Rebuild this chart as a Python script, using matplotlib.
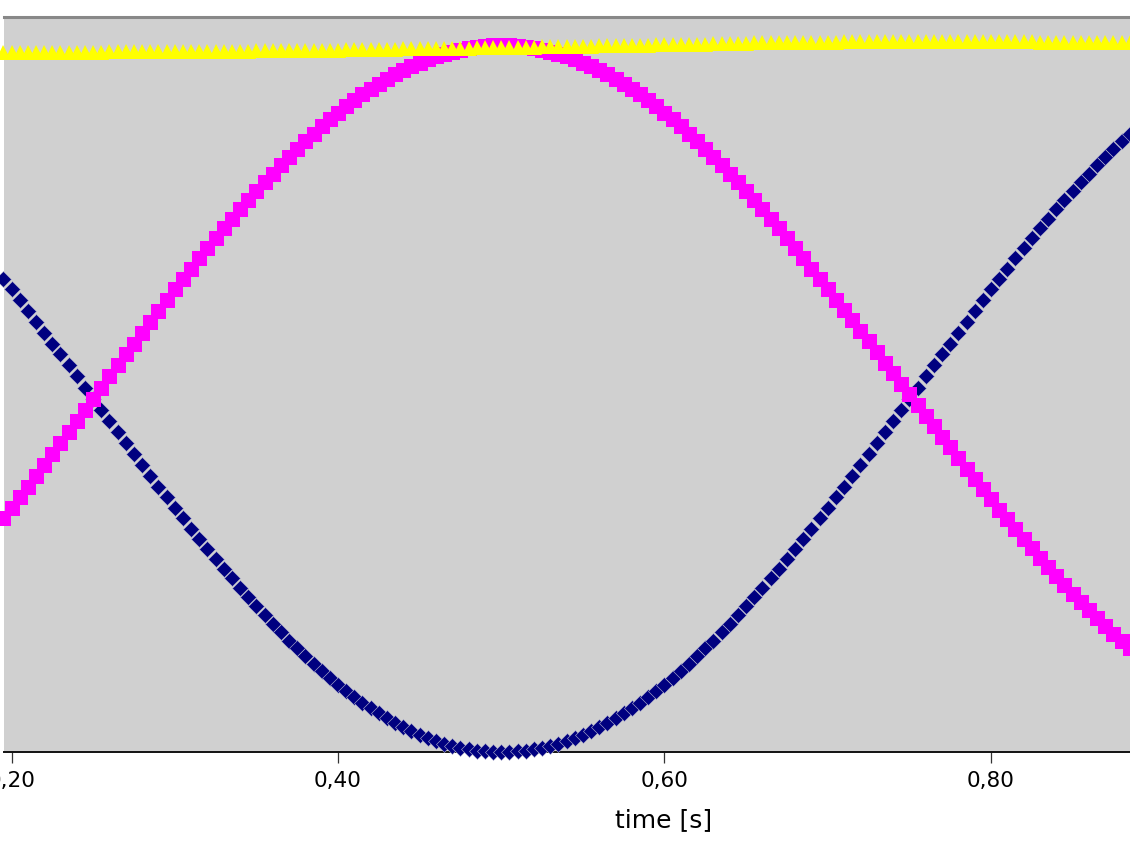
import numpy as np
import matplotlib
matplotlib.use("Agg")
import matplotlib.pyplot as plt
from matplotlib.ticker import FuncFormatter, FixedLocator

# sample times (s), 5 ms apart
time = np.round(np.arange(0.195, 0.8951, 0.005), 3)

# navy diamonds
navy_vals = [
    0.339, 0.309, 0.279, 0.249, 0.218, 0.187, 0.156, 0.125, 0.094, 0.063, 0.031,
    0.000,
    -0.031, -0.063, -0.094, -0.125, -0.156, -0.187, -0.218, -0.249, -0.279, -0.309,
    -0.339, -0.368, -0.397, -0.426, -0.454, -0.482, -0.509, -0.536, -0.562, -0.588,
    -0.613, -0.637, -0.661, -0.685, -0.707, -0.729, -0.750, -0.771, -0.790,
    -0.809, -0.827, -0.844, -0.861, -0.876, -0.891, -0.905, -0.918, -0.930, -0.941,
    -0.951, -0.960, -0.969, -0.976, -0.982, -0.988, -0.992, -0.996, -0.998, -1.000,
    -1.000,
    -1.000, -0.998, -0.996, -0.992, -0.988, -0.982, -0.976, -0.969, -0.960, -0.951,
    -0.941, -0.930, -0.918, -0.905, -0.891, -0.876, -0.861, -0.844, -0.827, -0.809,
    -0.790, -0.771, -0.750, -0.729, -0.707, -0.685, -0.661, -0.637, -0.613, -0.588,
    -0.562, -0.536, -0.509, -0.482, -0.454, -0.426, -0.397, -0.368, -0.339, -0.309,
    -0.279, -0.249, -0.218, -0.187, -0.156, -0.125, -0.094, -0.063, -0.031,
    0.000,
    0.031, 0.063, 0.094, 0.125, 0.156, 0.187, 0.218, 0.249, 0.279, 0.309,
    0.339, 0.368, 0.397, 0.426, 0.454, 0.482, 0.509, 0.536, 0.562, 0.588,
    0.613, 0.637, 0.661, 0.685, 0.707, 0.729, 0.750, 0.771, 0.790,
]

# magenta squares
magenta_vals = [
    -0.339, -0.309, -0.279, -0.249, -0.218, -0.187, -0.156, -0.125, -0.094, -0.063, -0.031,
    0.000,
    0.031, 0.063, 0.094, 0.125, 0.156, 0.187, 0.218, 0.249, 0.279, 0.309,
    0.339, 0.368, 0.397, 0.426, 0.454, 0.482, 0.509, 0.536, 0.562, 0.588,
    0.613, 0.637, 0.661, 0.685, 0.707, 0.729, 0.750, 0.771, 0.790,
    0.809, 0.827, 0.844, 0.861, 0.876, 0.891, 0.905, 0.918, 0.930, 0.941,
    0.951, 0.960, 0.969, 0.976, 0.982, 0.988, 0.992, 0.996, 0.998, 1.000,
    1.000,
    1.000, 0.998, 0.996, 0.992, 0.988, 0.982, 0.976, 0.969, 0.960, 0.951,
    0.941, 0.930, 0.918, 0.905, 0.891, 0.876, 0.861, 0.844, 0.827, 0.809,
    0.790, 0.771, 0.750, 0.729, 0.707, 0.685, 0.661, 0.637, 0.613, 0.588,
    0.562, 0.536, 0.509, 0.482, 0.454, 0.426, 0.397, 0.368, 0.339,
    0.309, 0.280, 0.251, 0.222, 0.192, 0.162, 0.132, 0.102, 0.073, 0.042,
    0.012,
    -0.018, -0.049, -0.078, -0.108, -0.138, -0.168, -0.198, -0.227, -0.256, -0.285,
    -0.314, -0.342, -0.369, -0.397, -0.424, -0.451, -0.477, -0.502, -0.527, -0.552,
    -0.576, -0.599, -0.621, -0.644, -0.665, -0.686, -0.706, -0.725, -0.743,
]

# yellow triangles
yellow_vals = [
    0.981, 0.981, 0.981, 0.981, 0.981, 0.981, 0.982, 0.982, 0.982, 0.982, 0.982,
    0.982, 0.982, 0.983, 0.983, 0.983, 0.983, 0.983, 0.983, 0.983, 0.983, 0.983,
    0.983, 0.984, 0.984, 0.984, 0.984, 0.985, 0.985, 0.985, 0.985, 0.986, 0.986,
    0.986, 0.987, 0.987, 0.987, 0.987, 0.988, 0.988, 0.988, 0.988, 0.989, 0.989,
    0.989, 0.990, 0.990,
    0.990, 0.990, 0.991, 0.991, 0.991, 0.992, 0.992, 0.992, 0.993, 0.993, 0.993,
    0.994, 0.994, 0.994, 0.995, 0.995, 0.996, 0.996, 0.996, 0.997, 0.997, 0.997,
    0.998,
    0.998, 0.999, 0.999, 1.000, 1.000, 1.001, 1.001, 1.001, 1.002, 1.002, 1.003,
    1.003, 1.004, 1.004, 1.004, 1.005, 1.005, 1.006, 1.006, 1.006, 1.007, 1.007,
    1.008,
    1.008, 1.008, 1.009, 1.009, 1.009, 1.009, 1.010, 1.010, 1.010, 1.010, 1.011,
    1.011, 1.011, 1.011, 1.011, 1.012, 1.012, 1.012, 1.012, 1.012, 1.012,
    1.012, 1.012, 1.012, 1.012, 1.012, 1.012, 1.012, 1.012, 1.011, 1.011, 1.011,
    1.011, 1.011, 1.010, 1.010, 1.010, 1.010, 1.010, 1.009, 1.009, 1.009, 1.009,
    1.009, 1.008, 1.008, 1.008, 1.008,
]

XTICKS = [0.2, 0.4, 0.6, 0.8]

W, H = 1130, 843
fig = plt.figure(figsize=(W / 100, H / 100), dpi=100)

# axes runs off the right edge of the canvas (cropped view)
ax_left, ax_bottom = 4, 843 - 752
ax_w, ax_h = 1320, 752 - 17
ax = fig.add_axes([ax_left / W, ax_bottom / H, ax_w / W, ax_h / H])
ax.set_facecolor("#d0d0d0")

ax.plot(time, navy_vals, ls="none", marker="D", ms=7.8, color="#000080",
        mec="#b8b8d0", mew=0.4, clip_on=False, zorder=3)
ax.plot(time, magenta_vals, ls="none", marker="s", ms=10.8, color="#ff00ff",
        mew=0.0, clip_on=False, zorder=4)
ax.plot(time, yellow_vals, ls="none", marker="^", ms=10.8, color="#ffff00",
        mew=0.0, clip_on=False, zorder=5)

px_per_s = 1632.5
x0 = 0.2 - 7.5 / px_per_s
ax.set_xlim(x0, x0 + ax_w / px_per_s)
ax.set_ylim(-1.0, 1.08)

ax.xaxis.set_major_locator(FixedLocator(XTICKS))
ax.xaxis.set_major_formatter(FuncFormatter(lambda v, p: f"{v:.2f}".replace(".", ",")))
ax.tick_params(axis="x", direction="out", length=8, width=0.9, color="#333333",
               labelsize=15.5, pad=6)
ax.set_yticks([])

ax.spines["left"].set_visible(False)
ax.spines["right"].set_visible(False)
ax.spines["top"].set_color("#888888")
ax.spines["top"].set_linewidth(2.2)
ax.spines["bottom"].set_color("#111111")
ax.spines["bottom"].set_linewidth(1.4)

ax.set_xlabel("time [s]", fontsize=18, labelpad=12)

fig.savefig("out.png", dpi=100)
